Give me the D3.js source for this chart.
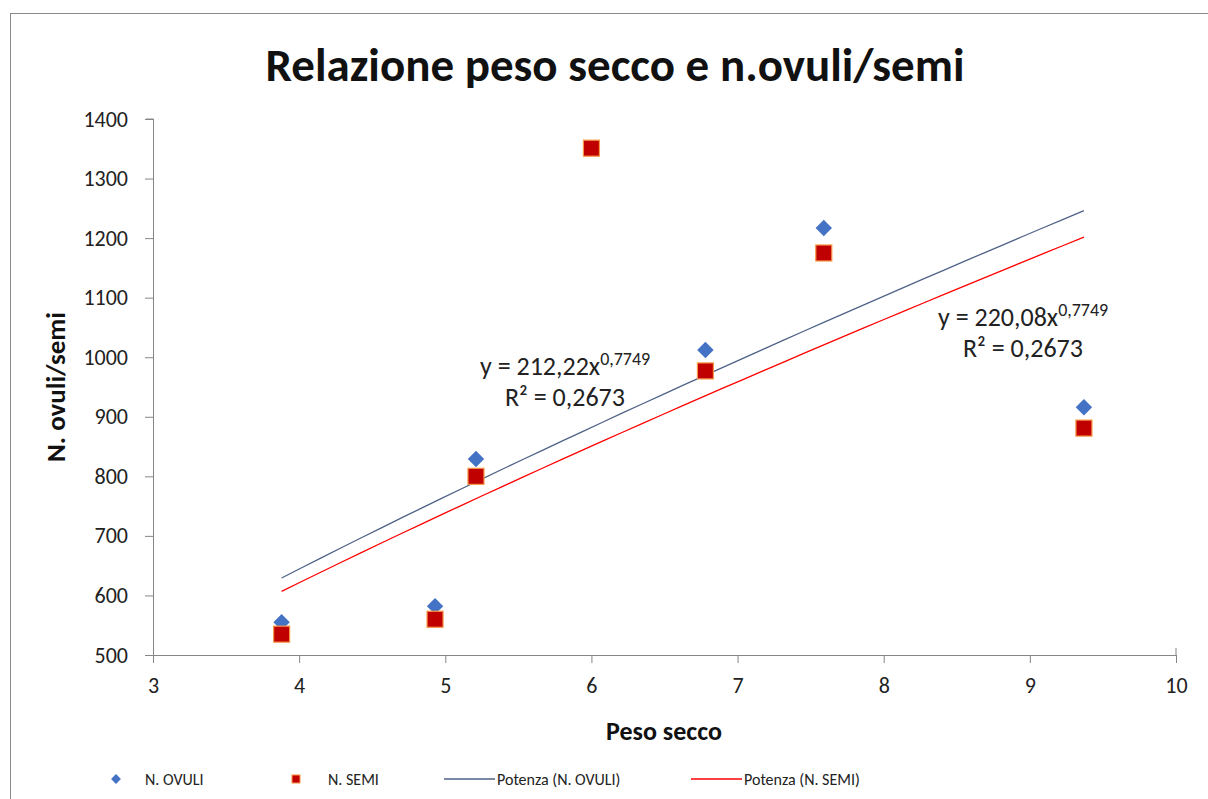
<!DOCTYPE html>
<html>
<head>
  <meta charset="utf-8">
  <script src="https://cdn.jsdelivr.net/npm/d3@7"></script>
  <style>
    body { margin: 0; background: #fff; }
    svg text { font-family: Carlito, Lato, "Open Sans", sans-serif; }
    .axis path, .axis line { stroke: #868686; }
    .axis text { font-size: 22px; fill: #222; font-family: Carlito, Lato, sans-serif; }
  </style>
</head>
<body>
  <div id="chart"></div>
  <script>
    // peso secco (x) with counts
    const pesoSecco = [3.88, 4.93, 5.21, 6.0, 6.78, 7.59, 9.37];
    const nOvuli = [555, 582, 829, 1402, 1012, 1217, 916];
    const nSemi = [535, 560, 800, 1351, 977, 1175, 881];

    // power trendlines y = a * x^b as printed on the chart
    const trendOvuli = { a: 220.08, b: 0.7749, r2: "0,2673", label: "220,08" };
    const trendSemi = { a: 212.22, b: 0.7749, r2: "0,2673", label: "212,22" };

    const xTicks = [3, 4, 5, 6, 7, 8, 9, 10];
    const yTicks = [500, 600, 700, 800, 900, 1000, 1100, 1200, 1300, 1400];

    const width = 1208, height = 799;
    const margin = { left: 153, right: 32, top: 119, bottom: 144 };

    const svg = d3.select("#chart").append("svg")
      .attr("width", width)
      .attr("height", height);

    svg.append("rect")
      .attr("x", 10.5).attr("y", 13.5)
      .attr("width", 1300).attr("height", 900)
      .attr("fill", "#fff")
      .attr("stroke", "#8a8a8a");

    const x = d3.scaleLinear().domain([3, 10]).range([margin.left, width - margin.right]);
    const y = d3.scaleLinear().domain([500, 1400]).range([height - margin.bottom, margin.top]);

    svg.append("text")
      .attr("x", 615).attr("y", 81)
      .attr("text-anchor", "middle")
      .attr("font-size", 47)
      .attr("font-weight", "bold")
      .attr("fill", "#111")
      .text("Relazione peso secco e n.ovuli/semi");

    svg.append("g")
      .attr("class", "axis")
      .attr("transform", `translate(0,${y(500)})`)
      .call(d3.axisBottom(x).tickValues(xTicks).tickSize(8).tickPadding(14).tickFormat(d3.format("d")))
      .call(g => g.select(".domain").attr("d", `M${x(3) - 8},0.5H${x(10)}V-7`));

    svg.append("g")
      .attr("class", "axis")
      .attr("transform", `translate(${x(3)},0)`)
      .call(d3.axisLeft(y).tickValues(yTicks).tickSize(8).tickPadding(17).tickFormat(d3.format("d")))
      .call(g => g.select(".domain").attr("d", `M0.5,${y(500) + 8}V${y(1400)}H-7`));

    svg.append("text")
      .attr("x", 664).attr("y", 740)
      .attr("text-anchor", "middle")
      .attr("font-size", 26).attr("font-weight", "bold").attr("fill", "#111")
      .text("Peso secco");

    svg.append("text")
      .attr("transform", "translate(65,387) rotate(-90)")
      .attr("text-anchor", "middle")
      .attr("font-size", 27).attr("font-weight", "bold").attr("fill", "#111")
      .text("N. ovuli/semi");

    // trendlines
    const xMin = d3.min(pesoSecco), xMax = d3.max(pesoSecco);
    const samples = d3.range(0, 41).map(i => xMin + (xMax - xMin) * i / 40);
    const line = d3.line().x(d => x(d[0])).y(d => y(d[1]));

    svg.append("path")
      .datum(samples.map(v => [v, trendOvuli.a * Math.pow(v, trendOvuli.b)]))
      .attr("d", line).attr("fill", "none")
      .attr("stroke", "#4f6287").attr("stroke-width", 1.3);

    svg.append("path")
      .datum(samples.map(v => [v, trendSemi.a * Math.pow(v, trendSemi.b)]))
      .attr("d", line).attr("fill", "none")
      .attr("stroke", "#ff0000").attr("stroke-width", 1.3);

    // points above the axis max are not drawn
    const ovuliPts = pesoSecco.map((v, i) => [v, nOvuli[i]]).filter(d => d[1] <= 1400);
    const semiPts = pesoSecco.map((v, i) => [v, nSemi[i]]).filter(d => d[1] <= 1400);

    svg.append("g").selectAll("path")
      .data(ovuliPts)
      .join("path")
      .attr("transform", d => `translate(${x(d[0])},${y(d[1])}) rotate(45)`)
      .attr("d", "M-5.8,-5.8H5.8V5.8H-5.8Z")
      .attr("fill", "#4472c4");

    svg.append("g").selectAll("rect")
      .data(semiPts)
      .join("rect")
      .attr("x", d => x(d[0]) - 8).attr("y", d => y(d[1]) - 8)
      .attr("width", 16).attr("height", 16)
      .attr("fill", "#c00000")
      .attr("stroke", "#f79646").attr("stroke-width", 1.2);

    // equation labels
    function equation(tr, px, py) {
      const t = svg.append("text")
        .attr("x", px).attr("y", py)
        .attr("font-size", 26).attr("fill", "#222");
      t.append("tspan").text(`y = ${tr.label}x`);
      t.append("tspan").attr("dy", -10).attr("font-size", 18).text("0,7749");
      svg.append("text")
        .attr("x", px + 25).attr("y", py + 31)
        .attr("font-size", 26).attr("fill", "#222")
        .text(`R² = ${tr.r2}`);
    }
    equation(trendSemi, 480, 375);
    equation(trendOvuli, 938, 326);

    // legend
    const legend = svg.append("g").attr("font-size", 16).attr("fill", "#222");
    legend.append("path")
      .attr("transform", "translate(116,779) rotate(45)")
      .attr("d", "M-3.5,-3.5H3.5V3.5H-3.5Z").attr("fill", "#4472c4");
    legend.append("text").attr("x", 145).attr("y", 785).text("N. OVULI");
    legend.append("rect")
      .attr("x", 292).attr("y", 775).attr("width", 8).attr("height", 8)
      .attr("fill", "#c00000").attr("stroke", "#f79646");
    legend.append("text").attr("x", 328).attr("y", 785).text("N. SEMI");
    legend.append("line")
      .attr("x1", 444).attr("x2", 495).attr("y1", 779).attr("y2", 779)
      .attr("stroke", "#4f6287").attr("stroke-width", 1.3);
    legend.append("text").attr("x", 497).attr("y", 785).text("Potenza (N. OVULI)");
    legend.append("line")
      .attr("x1", 691).attr("x2", 742).attr("y1", 779).attr("y2", 779)
      .attr("stroke", "#ff0000").attr("stroke-width", 1.3);
    legend.append("text").attr("x", 744).attr("y", 785).text("Potenza (N. SEMI)");
  </script>
</body>
</html>
